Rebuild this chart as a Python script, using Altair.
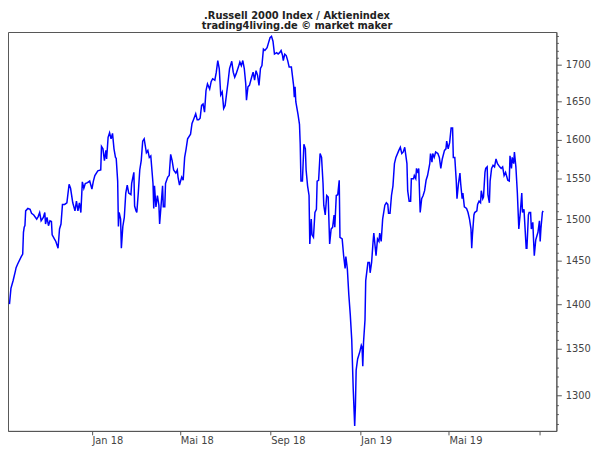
import altair as alt
import pandas as pd

dates = [
    "2017-09-11", "2017-09-13", "2017-09-16", "2017-09-19", "2017-09-20", "2017-09-22", "2017-09-27", "2017-09-29",
    "2017-09-30", "2017-10-01", "2017-10-02", "2017-10-03", "2017-10-06", "2017-10-09", "2017-10-11", "2017-10-14",
    "2017-10-18", "2017-10-20", "2017-10-22", "2017-10-24", "2017-10-27", "2017-10-29", "2017-10-30", "2017-11-01",
    "2017-11-03", "2017-11-05", "2017-11-07", "2017-11-08", "2017-11-11", "2017-11-13", "2017-11-16", "2017-11-18",
    "2017-11-20", "2017-11-22", "2017-11-25", "2017-11-28", "2017-12-01", "2017-12-03", "2017-12-06", "2017-12-09",
    "2017-12-11", "2017-12-13", "2017-12-15", "2017-12-17", "2017-12-19", "2017-12-21", "2017-12-23", "2017-12-26",
    "2017-12-29", "2018-01-01", "2018-01-03", "2018-01-05", "2018-01-09", "2018-01-13", "2018-01-14", "2018-01-16",
    "2018-01-18", "2018-01-20", "2018-01-21", "2018-01-23", "2018-01-25", "2018-01-27", "2018-01-29", "2018-01-31",
    "2018-02-02", "2018-02-03", "2018-02-05", "2018-02-06", "2018-02-07", "2018-02-09", "2018-02-10", "2018-02-12",
    "2018-02-14", "2018-02-16", "2018-02-18", "2018-02-20", "2018-02-23", "2018-02-24", "2018-02-27", "2018-02-28",
    "2018-03-02", "2018-03-03", "2018-03-05", "2018-03-07", "2018-03-09", "2018-03-11", "2018-03-13", "2018-03-16",
    "2018-03-18", "2018-03-20", "2018-03-22", "2018-03-25", "2018-03-26", "2018-03-27", "2018-03-29", "2018-03-31",
    "2018-04-02", "2018-04-03", "2018-04-06", "2018-04-07", "2018-04-08", "2018-04-10", "2018-04-11", "2018-04-14",
    "2018-04-16", "2018-04-18", "2018-04-20", "2018-04-22", "2018-04-25", "2018-04-27", "2018-04-28", "2018-04-30",
    "2018-05-03", "2018-05-05", "2018-05-07", "2018-05-09", "2018-05-11", "2018-05-15", "2018-05-17", "2018-05-19",
    "2018-05-22", "2018-05-24", "2018-05-26", "2018-05-28", "2018-05-30", "2018-06-01", "2018-06-03", "2018-06-05",
    "2018-06-07", "2018-06-10", "2018-06-12", "2018-06-14", "2018-06-17", "2018-06-19", "2018-06-21", "2018-06-23",
    "2018-06-25", "2018-06-27", "2018-06-29", "2018-07-01", "2018-07-03", "2018-07-05", "2018-07-07", "2018-07-10",
    "2018-07-12", "2018-07-14", "2018-07-16", "2018-07-19", "2018-07-21", "2018-07-23", "2018-07-25", "2018-07-27",
    "2018-07-29", "2018-07-30", "2018-08-01", "2018-08-03", "2018-08-06", "2018-08-08", "2018-08-10", "2018-08-12",
    "2018-08-14", "2018-08-16", "2018-08-18", "2018-08-20", "2018-08-22", "2018-08-24", "2018-08-27", "2018-08-29",
    "2018-08-31", "2018-09-02", "2018-09-04", "2018-09-06", "2018-09-09", "2018-09-11", "2018-09-13", "2018-09-15",
    "2018-09-17", "2018-09-18", "2018-09-20", "2018-09-22", "2018-09-24", "2018-09-26", "2018-09-29", "2018-10-02",
    "2018-10-03", "2018-10-04", "2018-10-05", "2018-10-08", "2018-10-10", "2018-10-11", "2018-10-12", "2018-10-14",
    "2018-10-16", "2018-10-18", "2018-10-19", "2018-10-21", "2018-10-23", "2018-10-24", "2018-10-26", "2018-10-27",
    "2018-10-29", "2018-10-31", "2018-11-02", "2018-11-03", "2018-11-05", "2018-11-07", "2018-11-09", "2018-11-11",
    "2018-11-12", "2018-11-14", "2018-11-16", "2018-11-18", "2018-11-20", "2018-11-22", "2018-11-24", "2018-11-26",
    "2018-11-27", "2018-11-29", "2018-12-01", "2018-12-03", "2018-12-04", "2018-12-07", "2018-12-09", "2018-12-11",
    "2018-12-12", "2018-12-14", "2018-12-16", "2018-12-18", "2018-12-20", "2018-12-22", "2018-12-24", "2018-12-25",
    "2018-12-26", "2018-12-28", "2018-12-31", "2019-01-02", "2019-01-03", "2019-01-04", "2019-01-05", "2019-01-07",
    "2019-01-08", "2019-01-11", "2019-01-13", "2019-01-14", "2019-01-16", "2019-01-18", "2019-01-19", "2019-01-22",
    "2019-01-24", "2019-01-26", "2019-01-27", "2019-01-29", "2019-01-31", "2019-02-03", "2019-02-05", "2019-02-07",
    "2019-02-08", "2019-02-10", "2019-02-12", "2019-02-14", "2019-02-16", "2019-02-18", "2019-02-22", "2019-02-24",
    "2019-02-26", "2019-02-28", "2019-03-02", "2019-03-05", "2019-03-06", "2019-03-08", "2019-03-10", "2019-03-11",
    "2019-03-14", "2019-03-15", "2019-03-17", "2019-03-18", "2019-03-20", "2019-03-21", "2019-03-23", "2019-03-25",
    "2019-03-27", "2019-03-29", "2019-03-31", "2019-04-02", "2019-04-05", "2019-04-06", "2019-04-08", "2019-04-09",
    "2019-04-11", "2019-04-13", "2019-04-16", "2019-04-18", "2019-04-20", "2019-04-22", "2019-04-25", "2019-04-27",
    "2019-04-28", "2019-04-30", "2019-05-02", "2019-05-04", "2019-05-06", "2019-05-07", "2019-05-09", "2019-05-11",
    "2019-05-12", "2019-05-14", "2019-05-16", "2019-05-17", "2019-05-19", "2019-05-20", "2019-05-22", "2019-05-25",
    "2019-05-27", "2019-05-29", "2019-05-31", "2019-06-01", "2019-06-02", "2019-06-04", "2019-06-05", "2019-06-08",
    "2019-06-09", "2019-06-11", "2019-06-13", "2019-06-14", "2019-06-16", "2019-06-17", "2019-06-19", "2019-06-20",
    "2019-06-22", "2019-06-23", "2019-06-25", "2019-06-26", "2019-06-28", "2019-06-30", "2019-07-02", "2019-07-04",
    "2019-07-06", "2019-07-09", "2019-07-11", "2019-07-13", "2019-07-15", "2019-07-17", "2019-07-20", "2019-07-22",
    "2019-07-23", "2019-07-25", "2019-07-26", "2019-07-28", "2019-07-29", "2019-07-31", "2019-08-02", "2019-08-04",
    "2019-08-06", "2019-08-08", "2019-08-09", "2019-08-11", "2019-08-12", "2019-08-14", "2019-08-15", "2019-08-17",
    "2019-08-18", "2019-08-20", "2019-08-21", "2019-08-23", "2019-08-24", "2019-08-25", "2019-08-27", "2019-08-29",
    "2019-08-30", "2019-09-01", "2019-09-02", "2019-09-03", "2019-09-05", "2019-09-06",
]

values = [
    1400, 1418, 1427, 1438, 1442, 1446, 1455, 1458,
    1484, 1490, 1492, 1510, 1513, 1512, 1507, 1505,
    1500, 1503, 1508, 1498, 1502, 1508, 1494, 1502,
    1492, 1498, 1497, 1481, 1476, 1473, 1465, 1488,
    1494, 1518, 1518, 1520, 1543, 1538, 1520, 1510,
    1522, 1510, 1520, 1508, 1546, 1538, 1544, 1545,
    1547, 1537, 1547, 1554, 1560, 1561, 1591, 1588,
    1573, 1586, 1575, 1603, 1609, 1601, 1608, 1588,
    1577, 1576, 1547, 1491, 1508, 1500, 1465, 1491,
    1502, 1532, 1542, 1532, 1530, 1544, 1558, 1516,
    1510, 1508, 1532, 1561, 1573, 1598, 1601, 1583,
    1586, 1577, 1579, 1544, 1513, 1541, 1515, 1529,
    1517, 1494, 1529, 1541, 1515, 1515, 1544, 1552,
    1554, 1581, 1573, 1561, 1557, 1561, 1552, 1542,
    1552, 1548, 1577, 1588, 1601, 1607, 1621, 1626,
    1634, 1626, 1626, 1628, 1645, 1647, 1636, 1665,
    1674, 1667, 1677, 1681, 1679, 1690, 1706, 1695,
    1659, 1663, 1641, 1645, 1661, 1677, 1695, 1705,
    1690, 1683, 1688, 1697, 1704, 1699, 1706, 1695,
    1674, 1652, 1670, 1672, 1683, 1690, 1679, 1692,
    1686, 1672, 1695, 1699, 1722, 1720, 1724, 1731,
    1738, 1740, 1733, 1715, 1717, 1715, 1717, 1720,
    1713, 1706, 1715, 1713, 1706, 1697, 1697, 1672,
    1656, 1670, 1650, 1633, 1620, 1594, 1547, 1547,
    1594, 1588, 1561, 1541, 1529, 1470, 1500, 1481,
    1478, 1508, 1512, 1547, 1548, 1582, 1577, 1544,
    1517, 1505, 1529, 1527, 1470, 1488, 1490, 1505,
    1490, 1529, 1530, 1548, 1478, 1476, 1456, 1441,
    1455, 1441, 1411, 1388, 1360, 1307, 1268, 1289,
    1327, 1339, 1347, 1354, 1352, 1331, 1357, 1382,
    1427, 1448, 1448, 1436, 1448, 1473, 1483, 1456,
    1476, 1473, 1483, 1473, 1500, 1517, 1520, 1518,
    1507, 1507, 1529, 1541, 1569, 1577, 1586, 1590,
    1582, 1584, 1590, 1569, 1535, 1522, 1522, 1550,
    1550, 1554, 1550, 1563, 1557, 1563, 1508, 1525,
    1529, 1535, 1548, 1554, 1569, 1582, 1571, 1582,
    1577, 1584, 1582, 1577, 1563, 1575, 1586, 1588,
    1598, 1588, 1596, 1615, 1615, 1577, 1577, 1547,
    1525, 1544, 1557, 1544, 1525, 1532, 1515, 1513,
    1508, 1500, 1488, 1465, 1481, 1505, 1508, 1510,
    1518, 1522, 1520, 1535, 1525, 1527, 1558, 1563,
    1565, 1530, 1520, 1547, 1563, 1567, 1565, 1575,
    1569, 1565, 1563, 1565, 1554, 1558, 1548, 1547,
    1579, 1563, 1577, 1569, 1584, 1565, 1532, 1488,
    1508, 1532, 1508, 1512, 1496, 1465, 1465, 1505,
    1508, 1508, 1488, 1496, 1475, 1456, 1475, 1481,
    1484, 1498, 1473, 1488, 1508, 1510,
]

title_lines = [".Russell 2000 Index / Aktienindex", "trading4living.de \u00a9 market maker"]
x_tick_dates = [(2018, 1), (2018, 5), (2018, 9), (2019, 1), (2019, 5), (2019, 9)]
y_ticks = list(range(1270, 1750, 10))

df = pd.DataFrame({"date": dates, "value": values})

x_axis = alt.Axis(
    values=[alt.DateTime(year=y, month=m, date=1, utc=True) for y, m in x_tick_dates],
    labelExpr="utcFormat(datum.value, '%Y-%m') == '2019-09' ? '' : "
              "(utcFormat(datum.value, '%m') == '05' ? 'Mai ' + utcFormat(datum.value, '%y') "
              ": utcFormat(datum.value, '%b %y'))",
    tickSize=4,
    labelPadding=1,
    labelAlign="left",
    labelBaseline="top",
    labelFlush=False,
    labelOverlap=False,
    grid=False,
)

y_axis = alt.Axis(
    orient="right",
    values=y_ticks,
    labelExpr="datum.value % 50 === 0 ? format(datum.value, 'd') : ''",
    tickSize={"condition": {"test": "datum.value % 50 === 0", "value": 5}, "value": 2},
    labelPadding=4,
    labelAlign="left",
    labelBaseline="middle",
    labelFlush=False,
    labelOverlap=False,
    grid=False,
)

chart = (
    alt.Chart(df)
    .mark_line(color="#0000ff", strokeWidth=1.5, clip=True)
    .encode(
        x=alt.X(
            "date:T",
            scale=alt.Scale(
                type="utc",
                domain=[
                    alt.DateTime(year=2017, month=9, date=9, utc=True),
                    alt.DateTime(year=2019, month=9, date=24, utc=True),
                ],
                nice=False,
            ),
            axis=x_axis,
            title=None,
        ),
        y=alt.Y(
            "value:Q",
            scale=alt.Scale(type="log", domain=[1263, 1746], nice=False),
            axis=y_axis,
            title=None,
        ),
    )
    .properties(
        width=554,
        height=403,
        autosize=alt.AutoSizeParams(type="none"),
        padding={"left": 0, "top": 22, "right": 36, "bottom": 16},
        title=alt.TitleParams(
            text=title_lines,
            font="DejaVu Sans",
            fontSize=10,
            fontWeight="bold",
            color="#222222",
            anchor="middle",
            dx=15,
            offset=0,
            lineHeight=10,
        ),
    )
    .configure_view(stroke="#555555", strokeWidth=1)
    .configure_axis(
        domainColor="#555555",
        tickColor="#555555",
        labelColor="#444444",
        labelFont="DejaVu Sans",
        labelFontSize=10,
    )
)

chart.save("out.html", embed_options={"renderer": "svg", "actions": False})
